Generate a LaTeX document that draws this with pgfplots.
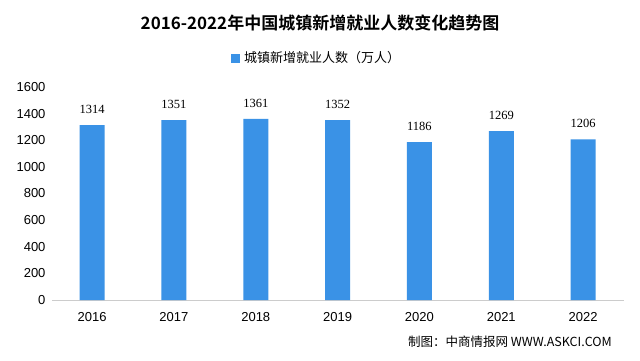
\documentclass[border=0pt]{standalone}
\usepackage{pgfplots}
\pgfplotsset{compat=1.18}
\usepackage{fontspec}
\setmainfont{Liberation Sans}
\newfontfamily\cjk{Noto Sans CJK SC}
\newfontfamily\cjkb{Noto Sans CJK SC Bold}
\newfontfamily\serifnum{Liberation Serif}
\definecolor{barblue}{HTML}{3A92E6}
\begin{document}
\begin{tikzpicture}
\path[use as bounding box, fill=white] (0pt,0pt) rectangle (640pt,360pt);
\begin{axis}[
  at={(52pt,60pt)}, anchor=south west,
  scale only axis, width=572pt, height=213pt,
  xmin=-0.49, xmax=6.5, ymin=0, ymax=1600,
  ytick={0,200,...,1600},
  xtick={0,...,6},
  xticklabels={2016,2017,2018,2019,2020,2021,2022},
  axis x line*=bottom,
  axis y line*=left,
  y axis line style={draw=none},
  x axis line style={draw=gray!40, line width=0.8pt, -},
  major tick length=0pt,
  tick style={draw=none},
  ticklabel style={font=\fontsize{13}{13}\selectfont, text=black},
  xticklabel style={yshift=-9pt},
  yticklabel style={xshift=-3pt},
  /pgf/number format/assume math mode=true,
  /pgf/number format/1000 sep={},
  clip=false,
]
\addplot[ybar, bar width=25pt, fill=barblue, draw=none,
  nodes near coords,
  every node near coord/.append style={font=\serifnum\fontsize{12.5}{12.5}\selectfont, text=black, yshift=8pt}]
  coordinates {(0,1314) (1,1351) (2,1361) (3,1352) (4,1186) (5,1269) (6,1206)};
\end{axis}
\node[font=\cjkb\fontsize{17}{17}\selectfont] at (320pt, 337pt) {2016-2022年中国城镇新增就业人数变化趋势图};
\fill[barblue] (231pt,297pt) rectangle (240pt,306pt);
\node[anchor=west, font=\cjk\fontsize{13}{13}\selectfont, inner sep=0pt] at (244pt, 302pt) {城镇新增就业人数（万人）};
\node[anchor=east, font=\cjk\fontsize{12.5}{12.5}\selectfont, inner sep=0pt] at (612pt, 18pt) {制图：中商情报网 WWW.ASKCI.COM};
\end{tikzpicture}
\end{document}
